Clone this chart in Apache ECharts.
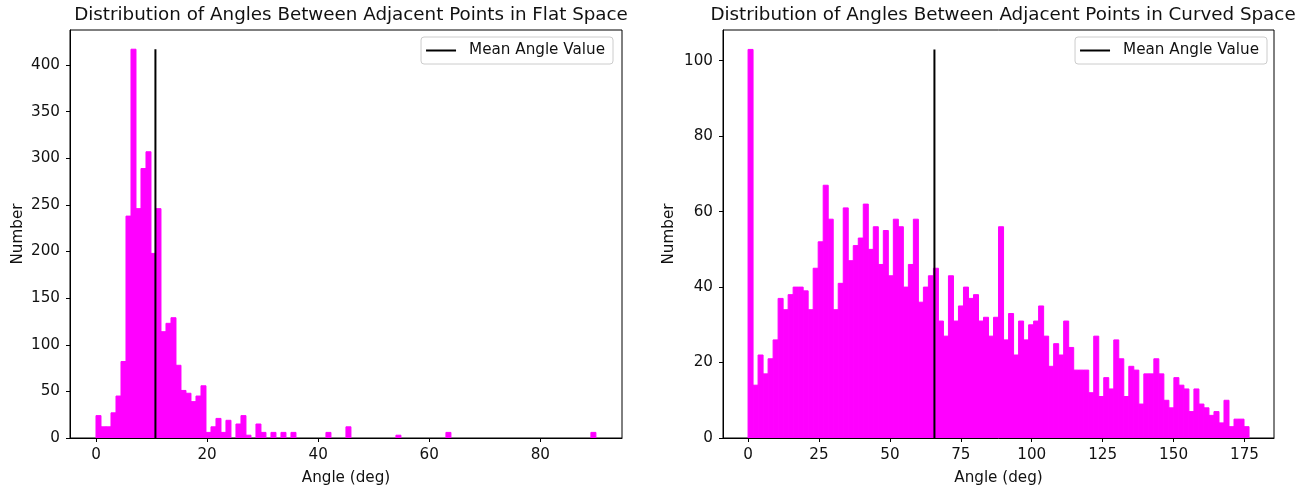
<!DOCTYPE html>
<html>
<head>
<meta charset="utf-8">
<script src="https://cdn.jsdelivr.net/npm/echarts@6/dist/echarts.min.js"></script>
<style>
  html, body { margin: 0; padding: 0; background: #fff; }
  #chart { width: 1309px; height: 492px; }
</style>
</head>
<body>
<div id="chart"></div>
<script>
// histogram counts, 100 bins each
const flatCounts = [
  24, 12, 12, 27, 45, 82, 238, 417, 246, 289,
  307, 198, 246, 114, 123, 129, 78, 51, 48, 39,
  45, 56, 6, 12, 21, 6, 19, 0, 15, 24,
  3, 0, 15, 6, 0, 6, 0, 6, 0, 6,
  0, 0, 0, 0, 0, 0, 6, 0, 0, 0,
  12, 0, 0, 0, 0, 0, 0, 0, 0, 0,
  3, 0, 0, 0, 0, 0, 0, 0, 0, 0,
  6, 0, 0, 0, 0, 0, 0, 0, 0, 0,
  0, 0, 0, 0, 0, 0, 0, 0, 0, 0,
  0, 0, 0, 0, 0, 0, 0, 0, 0, 6
]
const curvedCounts = [
  103, 14, 22, 17, 21, 26, 37, 34, 38, 40,
  40, 39, 34, 45, 52, 67, 58, 34, 41, 61,
  47, 51, 53, 62, 50, 56, 46, 55, 43, 58,
  56, 40, 46, 58, 36, 40, 43, 45, 31, 27,
  43, 31, 35, 40, 37, 38, 31, 32, 27, 32,
  56, 26, 33, 22, 31, 26, 30, 31, 35, 27,
  19, 25, 22, 31, 24, 18, 18, 18, 12, 27,
  11, 16, 13, 26, 21, 11, 19, 18, 9, 17,
  17, 21, 17, 10, 8, 16, 14, 13, 7, 13,
  9, 8, 6, 7, 4, 10, 3, 5, 5, 3
]
const flatRange = [0, 90]
const curvedRange = [0, 176.6]
const flatMean = 10.7
const curvedMean = 65.7
const flatXTicks = [0, 20, 40, 60, 80]
const flatYTicks = [0, 50, 100, 150, 200, 250, 300, 350, 400]
const curvedXTicks = [0, 25, 50, 75, 100, 125, 150, 175]
const curvedYTicks = [0, 20, 40, 60, 80, 100]

const font = 'DejaVu Sans'
const ink = '#111'
const labelSize = 15.2

function toBins(counts, range) {
  const w = (range[1] - range[0]) / counts.length
  return counts.map((c, i) => [range[0] + i * w, range[0] + (i + 1) * w, c])
}

function renderBar(params, api) {
  if (!api.value(2)) return null
  const p0 = api.coord([api.value(0), api.value(2)])
  const p1 = api.coord([api.value(1), 0])
  return {
    type: 'rect',
    shape: { x: p0[0], y: p0[1], width: p1[0] - p0[0], height: p1[1] - p0[1] },
    style: { fill: '#ff00ff', stroke: '#ff00ff', lineWidth: 1 },
  }
}

function xAxis(idx, min, max, ticks) {
  return {
    type: 'value', gridIndex: idx, min, max, z: 10,
    name: 'Angle (deg)', nameLocation: 'middle', nameGap: 33,
    nameTextStyle: { fontFamily: font, fontSize: labelSize, color: ink },
    axisLine: { show: true, onZero: false, lineStyle: { color: '#000', width: 1 } },
    axisTick: { show: true, inside: false, length: 4, customValues: ticks, lineStyle: { color: '#000' } },
    axisLabel: { customValues: ticks, margin: 10, fontFamily: font, fontSize: labelSize, color: ink },
    splitLine: { show: false },
  }
}

function yAxis(idx, max, ticks, gap) {
  return {
    type: 'value', gridIndex: idx, min: 0, max, z: 10,
    name: 'Number', nameLocation: 'middle', nameGap: gap,
    nameTextStyle: { fontFamily: font, fontSize: labelSize, color: ink },
    axisLine: { show: true, onZero: false, lineStyle: { color: '#000', width: 1 } },
    axisTick: { show: true, inside: false, length: 4, customValues: ticks, lineStyle: { color: '#000' } },
    axisLabel: { customValues: ticks, margin: 10, fontFamily: font, fontSize: labelSize, color: ink },
    splitLine: { show: false },
  }
}

function legend(right) {
  return {
    right, top: 37,
    data: ['Mean Angle Value'],
    icon: 'rect', itemWidth: 30, itemHeight: 2,
    padding: [6, 8, 6, 5],
    backgroundColor: 'rgba(255,255,255,0.8)',
    borderColor: '#cccccc', borderWidth: 1, borderRadius: 3,
    textStyle: { fontFamily: font, fontSize: labelSize, color: ink, padding: [0, 0, 0, 8] },
  }
}

const chart = echarts.init(document.getElementById('chart'))
chart.setOption({
  backgroundColor: '#fff',
  animation: false,
  title: [
    { text: 'Distribution of Angles Between Adjacent Points in Flat Space', left: 346, top: 1, textAlign: 'center',
      textStyle: { fontFamily: font, fontSize: 18.3, fontWeight: 'normal', color: ink } },
    { text: 'Distribution of Angles Between Adjacent Points in Curved Space', left: 998, top: 1, textAlign: 'center',
      textStyle: { fontFamily: font, fontSize: 18.3, fontWeight: 'normal', color: ink } },
  ],
  legend: [legend(696), legend(42)],
  grid: [
    { left: 70, right: 687, top: 30, bottom: 54, show: true, borderColor: '#000', borderWidth: 1, backgroundColor: 'transparent' },
    { left: 723, right: 35, top: 30, bottom: 54, show: true, borderColor: '#000', borderWidth: 1, backgroundColor: 'transparent' },
  ],
  xAxis: [xAxis(0, -4.68, 94.7, flatXTicks), xAxis(1, -8.83, 185.4, curvedXTicks)],
  yAxis: [yAxis(0, 437.6, flatYTicks, 44), yAxis(1, 108.15, curvedYTicks, 46)],
  series: [
    { type: 'custom', xAxisIndex: 0, yAxisIndex: 0, renderItem: renderBar,
      encode: { x: [0, 1], y: 2 }, data: toBins(flatCounts, flatRange) },
    { type: 'custom', xAxisIndex: 1, yAxisIndex: 1, renderItem: renderBar,
      encode: { x: [0, 1], y: 2 }, data: toBins(curvedCounts, curvedRange) },
    { name: 'Mean Angle Value', type: 'line', xAxisIndex: 0, yAxisIndex: 0, symbol: 'none', z: 5,
      itemStyle: { color: '#000' }, lineStyle: { color: '#000', width: 2 },
      data: [[flatMean, 0], [flatMean, Math.max(...flatCounts)]] },
    { name: 'Mean Angle Value', type: 'line', xAxisIndex: 1, yAxisIndex: 1, symbol: 'none', z: 5,
      itemStyle: { color: '#000' }, lineStyle: { color: '#000', width: 2 },
      data: [[curvedMean, 0], [curvedMean, Math.max(...curvedCounts)]] },
  ],
})
</script>
</body>
</html>
